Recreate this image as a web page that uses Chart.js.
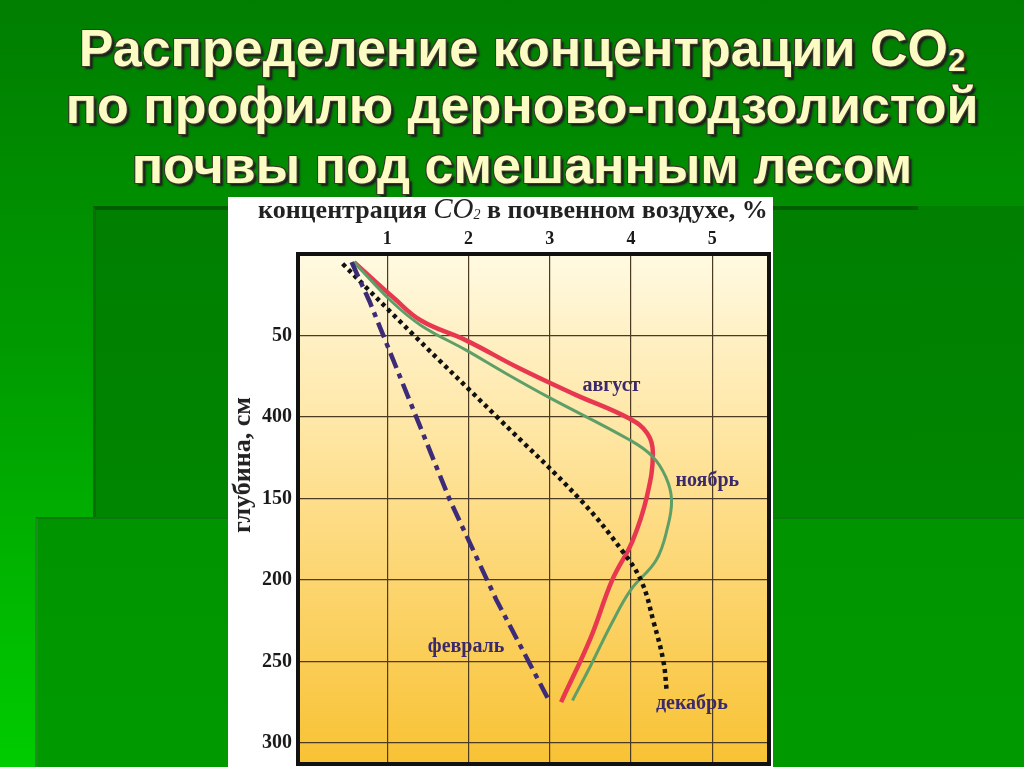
<!DOCTYPE html>
<html>
<head>
<meta charset="utf-8">
<script src="https://cdn.jsdelivr.net/npm/chart.js@4.4.1/dist/chart.umd.min.js"></script>
<style>
  html, body { margin: 0; padding: 0; }
  body {
    width: 1024px; height: 767px; overflow: hidden; position: relative;
    background: linear-gradient(to bottom, #007e00 0%, #009a00 45%, #00cc00 100%);
  }
  .rect0 {
    position: absolute; left: 93px; top: 206px; width: 931px; height: 561px;
    background: linear-gradient(to bottom, #007f00 0%, #008c00 100%);
  }
  .rect1 {
    position: absolute; left: 93px; top: 206px; width: 822px; height: 561px;
    background: linear-gradient(to bottom, #007f00 0%, #008c00 100%);
    border-left: 3px solid #0b6e0b; border-top: 4px solid #005d00;
  }
  .rect2 {
    position: absolute; left: 35px; top: 517px; width: 989px; height: 250px;
    background: linear-gradient(to bottom, #009400 0%, #009a00 100%);
    border-left: 3px solid #1f8a1f; border-top: 2px solid #0a7a0a;
  }
  .title {
    position: absolute; left: 0; width: 1044px; text-align: center;
    font-family: "Liberation Sans", Arial, sans-serif; font-weight: bold;
    font-size: 52px; line-height: 52px; color: #fbfbc4; white-space: nowrap;
    text-shadow: -1px -1px 0 #3a3a2a, 1px -1px 0 #3a3a2a, -1px 1px 0 #3a3a2a, 1px 1px 0 #3a3a2a, 3px 3px 2px #1c1c1c;
  }
  .title sub { font-size: 60%; vertical-align: -0.15em; line-height: 0; }
  #panel { position: absolute; left: 228px; top: 197px; width: 545px; height: 570px; background: #fff; }
  #panel canvas { position: absolute; left: 0; top: 0; }
  .xtitle {
    position: absolute; left: 258px; top: 192px; white-space: nowrap;
    font-family: "Liberation Serif", serif; font-weight: bold; font-size: 26px; color: #222;
  }
  .xtitle i { font-weight: normal; font-size: 29px; }
  .xtitle sub { font-size: 14px; vertical-align: -0.1em; font-style: italic; font-weight: normal; }
  .ytitle {
    position: absolute; left: 242px; top: 465px; white-space: nowrap;
    transform: translate(-50%, -50%) rotate(-90deg);
    font-family: "Liberation Serif", serif; font-weight: bold; font-size: 26px; color: #222;
  }
</style>
</head>
<body>
<div class="rect0"></div>
<div class="rect1"></div>
<div class="rect2"></div>
<div class="title" style="top:22px">Распределение концентрации CO<sub>2</sub></div>
<div class="title" style="top:79px">по профилю дерново-подзолистой</div>
<div class="title" style="top:139px">почвы под смешанным лесом</div>
<div id="panel"><canvas id="grafico" width="545" height="570"></canvas></div>
<div class="xtitle">концентрация <i>CO</i><sub>2</sub> в почвенном воздухе, %</div>
<div class="ytitle">глубина, см</div>
<script>
// шкалы
const xTicks = [1, 2, 3, 4, 5];
const yTicks = [50, 100, 150, 200, 250, 300];
const yTickLabels = ['50', '400', '150', '200', '250', '300']; // как на исходном рисунке

// август
const augX = [0.59, 1.08, 1.42, 1.97, 2.62, 3.30, 3.98, 4.20, 4.27, 4.20, 4.02, 3.77, 3.50, 3.14];
const augY = [5, 27, 41, 53, 70, 86, 101, 110, 122, 148, 176, 200, 236, 275];
// ноябрь
const novX = [0.59, 1.05, 1.42, 1.97, 2.45, 2.99, 3.98, 4.26, 4.43, 4.50, 4.45, 4.31, 4.00, 3.77, 3.50, 3.28];
const novY = [5, 29, 44, 59, 73, 88, 114, 124, 137, 151, 168, 188, 206, 226, 253, 274];
// декабрь
const decX = [0.45, 1.33, 2.35, 3.38, 3.89, 4.13, 4.28, 4.40, 4.44];
const decY = [6, 50, 100, 151, 182, 201, 226, 250, 268];
// февраль
const febX = [0.56, 0.78, 1.77, 2.34, 2.99];
const febY = [5, 29, 151, 212, 274];

// подписи кривых
const labelText = ['август', 'ноябрь', 'февраль', 'декабрь'];
const labelX = [3.76, 4.94, 1.97, 4.75];
const labelY = [81, 139, 241, 276];

function pts(xs, ys) {
  return xs.map((x, i) => ({ x, y: ys[i] }));
}

const fonPlugin = {
  id: 'fon',
  beforeDraw(chart) {
    const { ctx, chartArea: a } = chart;
    const g = ctx.createLinearGradient(0, a.top, 0, a.bottom);
    g.addColorStop(0, '#fffae2');
    g.addColorStop(0.5, '#fedd88');
    g.addColorStop(1, '#f8c233');
    ctx.save();
    ctx.fillStyle = g;
    ctx.fillRect(a.left, a.top, a.right - a.left, a.bottom - a.top);
    ctx.restore();
  },
  afterDraw(chart) {
    const { ctx, chartArea: a, scales } = chart;
    ctx.save();
    ctx.strokeStyle = '#111';
    ctx.lineWidth = 4;
    ctx.strokeRect(a.left, a.top, a.right - a.left, a.bottom - a.top);
    ctx.fillStyle = '#3b2a6b';
    ctx.font = 'bold 20px "Liberation Serif", serif';
    ctx.textAlign = 'center';
    ctx.textBaseline = 'middle';
    labelText.forEach((t, i) => {
      ctx.fillText(t, scales.x.getPixelForValue(labelX[i]), scales.y.getPixelForValue(labelY[i]));
    });
    ctx.restore();
  }
};

const ctx = document.getElementById('grafico').getContext('2d');
new Chart(ctx, {
  type: 'scatter',
  data: {
    datasets: [
      { label: 'февраль', data: pts(febX, febY), borderColor: '#3d2b78', borderWidth: 4.5,
        borderDash: [16, 6, 5, 6], tension: 0 },
      { label: 'декабрь', data: pts(decX, decY), borderColor: '#111', borderWidth: 4.5,
        borderDash: [4, 4], tension: 0.4 },
      { label: 'ноябрь', data: pts(novX, novY), borderColor: '#5e9f68', borderWidth: 3, tension: 0.4 },
      { label: 'август', data: pts(augX, augY), borderColor: '#e8384f', borderWidth: 4.5, tension: 0.4 }
    ]
  },
  options: {
    responsive: false,
    animation: false,
    showLine: true,
    elements: { point: { radius: 0 } },
    layout: { padding: { left: 0, top: 0, right: 4, bottom: 3 } },
    plugins: { legend: { display: false }, tooltip: { enabled: false } },
    scales: {
      x: {
        type: 'linear', position: 'top', min: -0.1, max: 5.7,
        afterBuildTicks: s => { s.ticks = xTicks.map(v => ({ value: v })); },
        afterFit: s => { s.height = 57; s.paddingLeft = 0; s.paddingRight = 0; },
        grid: { color: '#4a3b22', lineWidth: 1.2, drawTicks: false },
        border: { display: false },
        ticks: { color: '#1a1a1a', padding: 4, font: { family: 'Liberation Serif', weight: 'bold', size: 18 } }
      },
      y: {
        type: 'linear', reverse: true, min: 0, max: 313,
        afterBuildTicks: s => { s.ticks = yTicks.map(v => ({ value: v })); },
        afterFit: s => { s.width = 70; s.paddingTop = 0; s.paddingBottom = 0; },
        grid: { color: '#4a3b22', lineWidth: 1.2, drawTicks: false },
        border: { display: false },
        ticks: {
          color: '#1a1a1a', padding: 6, font: { family: 'Liberation Serif', weight: 'bold', size: 20 },
          callback: v => yTickLabels[yTicks.indexOf(v)]
        }
      }
    }
  },
  plugins: [fonPlugin]
});
</script>
</body>
</html>
